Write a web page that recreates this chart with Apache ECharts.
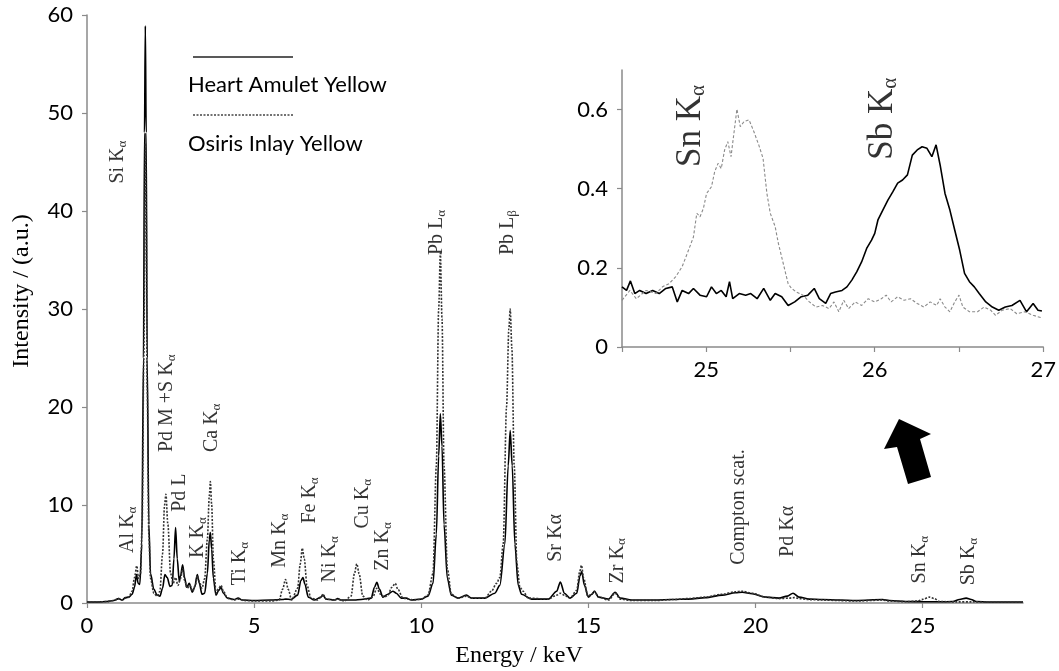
<!DOCTYPE html>
<html>
<head>
<meta charset="utf-8">
<script src="https://cdn.jsdelivr.net/npm/echarts@6/dist/echarts.min.js"></script>
<style>
  html, body { margin: 0; padding: 0; background: #fff; }
  #chart { width: 1059px; height: 671px; }
</style>
</head>
<body>
<div id="chart"></div>
<script>
// XRF spectra: [energy keV, intensity a.u.]
const heartSpectrum = [
  [0.0,0.1],[0.3,0.1],[0.6,0.15],[0.8,0.25],[0.95,0.45],[1.05,0.3],[1.15,0.55],[1.25,0.6],
  [1.35,0.9],[1.42,1.6],[1.48,2.9],[1.53,2.0],[1.58,1.9],[1.64,6],[1.69,25],[1.72,48],
  [1.745,58.9],[1.77,48],[1.8,25],[1.85,8],[1.9,3],[2.0,1.4],[2.1,0.8],[2.18,0.7],
  [2.26,1.5],[2.33,2.9],[2.4,2.6],[2.48,1.7],[2.55,1.8],[2.6,4.5],[2.65,7.7],[2.7,4.5],
  [2.76,2.2],[2.8,2.8],[2.86,3.9],[2.92,2.6],[2.98,1.6],[3.06,2.0],[3.15,1.1],[3.22,1.6],
  [3.3,2.9],[3.36,2.0],[3.44,0.9],[3.52,1.0],[3.6,3.0],[3.66,6.5],[3.69,7.2],[3.73,5.5],
  [3.78,2.5],[3.86,0.8],[3.94,1.3],[4.01,1.6],[4.08,1.0],[4.2,0.5],[4.4,0.35],[4.52,0.5],
  [4.65,0.3],[5.0,0.25],[5.5,0.3],[5.85,0.35],[5.95,0.4],[6.1,0.35],[6.3,0.8],[6.4,2.3],
  [6.46,2.6],[6.52,1.9],[6.62,0.6],[6.8,0.3],[7.0,0.6],[7.06,0.8],[7.15,0.4],[7.4,0.3],
  [7.5,0.45],[7.6,0.3],[8.0,0.3],[8.2,0.35],[8.5,0.5],[8.6,1.6],[8.67,2.1],[8.75,1.4],
  [8.85,0.6],[9.0,0.9],[9.15,1.2],[9.25,1.0],[9.4,0.5],[9.55,0.5],[9.7,0.3],[10.0,0.4],
  [10.2,0.7],[10.35,2.0],[10.45,7],[10.52,15],[10.57,19.3],[10.62,16],[10.68,8],[10.78,2.5],
  [10.9,0.8],[11.1,0.5],[11.35,0.8],[11.5,0.5],[11.9,0.5],[12.2,1.0],[12.35,1.8],[12.5,6],
  [12.6,14],[12.66,17.6],[12.72,14],[12.8,6],[12.9,1.8],[13.0,0.9],[13.3,0.4],[13.8,0.4],
  [14.05,1.2],[14.16,2.15],[14.28,1.0],[14.45,0.5],[14.65,1.0],[14.75,2.8],[14.8,3.2],[14.88,1.8],
  [15.0,0.6],[15.1,0.9],[15.18,1.2],[15.3,0.6],[15.6,0.4],[15.8,1.1],[15.95,0.5],[16.3,0.3],
  [17.0,0.3],[17.5,0.35],[18.0,0.4],[18.5,0.55],[19.0,0.8],[19.4,1.05],[19.6,1.1],[19.9,0.95],
  [20.3,0.6],[20.7,0.5],[20.95,0.7],[21.12,1.0],[21.3,0.6],[21.6,0.4],[22.0,0.35],[22.5,0.3],
  [23.0,0.25],[23.8,0.35],[24.0,0.25],[24.5,0.15],[25.0,0.14],[25.5,0.12],[25.9,0.15],[26.1,0.36],
  [26.3,0.5],[26.45,0.35],[26.6,0.16],[27.0,0.1],[28.0,0.1]
];

const osirisSpectrum = [
  [0.0,0.1],[0.3,0.1],[0.6,0.15],[0.8,0.25],[0.95,0.45],[1.05,0.3],[1.15,0.5],[1.25,0.6],
  [1.35,1.2],[1.42,2.6],[1.49,3.8],[1.54,2.5],[1.6,3],[1.65,8],[1.7,25],[1.73,40],
  [1.75,46.9],[1.77,40],[1.8,22],[1.85,7],[1.9,2.5],[2.0,1.0],[2.1,0.7],[2.18,1.2],
  [2.26,5],[2.32,10],[2.36,11.1],[2.42,8],[2.5,3],[2.58,2.0],[2.65,2.6],[2.72,1.8],
  [2.8,2.5],[2.86,3.5],[2.92,2.3],[3.0,1.5],[3.08,1.8],[3.16,1.2],[3.24,1.8],[3.3,2.8],
  [3.36,2.2],[3.44,1.5],[3.52,2.5],[3.6,6.5],[3.66,11],[3.69,12.4],[3.73,10],[3.78,4.5],
  [3.86,1.0],[3.94,1.5],[4.01,1.8],[4.08,1.2],[4.2,0.5],[4.4,0.3],[4.52,0.4],[4.7,0.25],
  [5.0,0.2],[5.5,0.2],[5.75,0.3],[5.85,1.4],[5.94,2.4],[6.02,1.4],[6.12,0.3],[6.3,1.5],
  [6.38,4],[6.44,5.6],[6.5,4.5],[6.58,1.8],[6.7,0.5],[6.9,0.3],[7.0,0.6],[7.06,0.9],
  [7.15,0.4],[7.4,0.3],[7.5,0.4],[7.7,0.2],[7.9,0.7],[8.0,3.0],[8.07,4.0],[8.14,3.0],
  [8.25,0.7],[8.4,0.3],[8.55,0.6],[8.67,1.5],[8.78,0.9],[8.9,0.6],[9.0,0.8],[9.12,1.6],
  [9.22,2.0],[9.3,1.4],[9.45,0.5],[9.6,0.4],[9.8,0.3],[10.0,0.4],[10.2,0.8],[10.35,3.0],
  [10.45,14],[10.52,30],[10.57,35.7],[10.62,29],[10.68,14],[10.78,3.5],[10.9,0.9],[11.1,0.5],
  [11.35,0.7],[11.5,0.5],[11.9,0.5],[12.1,1.2],[12.25,2.0],[12.35,2.6],[12.45,6],[12.55,20],
  [12.62,28],[12.66,30],[12.71,26],[12.78,14],[12.86,4],[12.95,1.6],[13.05,1.2],[13.2,0.5],
  [13.8,0.4],[14.05,0.8],[14.16,1.0],[14.28,0.8],[14.45,0.5],[14.65,1.3],[14.74,3.2],[14.79,3.85],
  [14.86,2.5],[14.98,0.7],[15.1,0.9],[15.18,1.2],[15.3,0.6],[15.6,0.3],[15.8,1.0],[15.95,0.4],
  [16.3,0.25],[17.0,0.25],[17.5,0.35],[18.0,0.45],[18.5,0.6],[19.0,0.9],[19.4,1.15],[19.6,1.2],
  [19.9,1.0],[20.3,0.6],[20.7,0.45],[21.0,0.5],[21.15,0.55],[21.3,0.45],[21.6,0.35],[22.0,0.3],
  [22.5,0.25],[23.0,0.2],[23.8,0.3],[24.0,0.2],[24.5,0.13],[24.85,0.2],[25.0,0.38],[25.2,0.6],
  [25.35,0.45],[25.5,0.15],[26.0,0.11],[26.5,0.12],[27.0,0.08],[28.0,0.08]
];

// Zoomed region 24.5 - 27 keV (Sn / Sb K lines)
const heartInset = [
  [24.500,0.152],[24.527,0.143],[24.550,0.167],[24.576,0.135],[24.605,0.143],[24.643,0.135],
  [24.682,0.143],[24.721,0.135],[24.760,0.148],[24.798,0.152],[24.828,0.114],[24.857,0.143],
  [24.895,0.135],[24.924,0.148],[24.963,0.131],[25.002,0.127],[25.031,0.152],[25.060,0.135],
  [25.089,0.143],[25.118,0.127],[25.138,0.165],[25.157,0.122],[25.196,0.135],[25.234,0.131],
  [25.264,0.135],[25.302,0.122],[25.341,0.148],[25.380,0.118],[25.409,0.135],[25.448,0.127],
  [25.486,0.105],[25.525,0.114],[25.564,0.127],[25.603,0.131],[25.641,0.148],[25.671,0.122],
  [25.709,0.110],[25.738,0.135],[25.767,0.139],[25.806,0.143],[25.835,0.152],[25.864,0.169],
  [25.893,0.190],[25.922,0.215],[25.952,0.249],[25.981,0.270],[26.000,0.287],[26.019,0.321],
  [26.048,0.346],[26.078,0.371],[26.107,0.392],[26.136,0.414],[26.165,0.422],[26.194,0.435],
  [26.223,0.485],[26.252,0.498],[26.281,0.506],[26.310,0.502],[26.339,0.481],[26.364,0.511],
  [26.388,0.460],[26.417,0.388],[26.446,0.346],[26.475,0.295],[26.504,0.245],[26.533,0.186],
  [26.562,0.165],[26.591,0.152],[26.620,0.135],[26.659,0.114],[26.698,0.101],[26.736,0.093],
  [26.775,0.101],[26.814,0.105],[26.862,0.118],[26.901,0.089],[26.940,0.110],[26.969,0.093],
  [26.992,0.091]
];

const osirisInset = [
  [24.500,0.118],[24.547,0.143],[24.585,0.122],[24.643,0.143],[24.702,0.135],[24.740,0.152],
  [24.779,0.160],[24.818,0.177],[24.857,0.203],[24.895,0.245],[24.924,0.278],[24.944,0.338],
  [24.963,0.329],[24.983,0.350],[25.002,0.388],[25.031,0.405],[25.050,0.443],[25.070,0.464],
  [25.089,0.451],[25.109,0.498],[25.128,0.519],[25.147,0.481],[25.163,0.536],[25.182,0.601],
  [25.202,0.557],[25.225,0.570],[25.254,0.574],[25.283,0.544],[25.312,0.510],[25.337,0.477],
  [25.360,0.388],[25.380,0.338],[25.409,0.304],[25.428,0.262],[25.457,0.211],[25.486,0.160],
  [25.506,0.148],[25.535,0.139],[25.574,0.131],[25.612,0.114],[25.651,0.101],[25.690,0.105],
  [25.729,0.097],[25.758,0.114],[25.787,0.089],[25.816,0.118],[25.845,0.097],[25.884,0.114],
  [25.922,0.105],[25.961,0.122],[26.000,0.114],[26.039,0.122],[26.068,0.131],[26.097,0.114],
  [26.136,0.127],[26.174,0.118],[26.213,0.122],[26.252,0.110],[26.291,0.101],[26.329,0.114],
  [26.368,0.105],[26.388,0.122],[26.417,0.101],[26.446,0.089],[26.475,0.114],[26.500,0.131],
  [26.523,0.101],[26.562,0.089],[26.610,0.089],[26.649,0.101],[26.688,0.093],[26.717,0.080],
  [26.756,0.093],[26.804,0.097],[26.843,0.084],[26.891,0.089],[26.940,0.080],[26.988,0.074]
];

const seriesNames = ['Heart Amulet Yellow', 'Osiris Inlay Yellow'];

// Line assignments; text after "_" is set as a subscript
const peakNames = [
  'Si K_α', 'Al K_α', 'Pd M +S K_α', 'Pd L', 'K K_α', 'Ca K_α', 'Ti K_α', 'Mn K_α',
  'Fe K_α', 'Ni K_α', 'Cu K_α', 'Zn K_α', 'Pb L_α', 'Pb L_β', 'Sr Kα', 'Zr K_α',
  'Compton scat.', 'Pd Kα', 'Sn K_α', 'Sb K_α'
];
const peakEnergy = [
  0.92, 1.22, 2.39, 2.78, 3.31, 3.73, 4.57, 5.77,
  6.67, 7.27, 8.26, 8.86, 10.47, 12.60, 14.01, 15.87,
  19.49, 20.96, 24.91, 26.38
];
const peakHeight = [
  42.8, 5.1, 15.4, 9.3, 4.6, 15.4, 1.8, 3.6,
  8.1, 2.1, 7.6, 3.3, 35.5, 35.5, 4.2, 2.0,
  3.9, 4.7, 2.0, 1.8
];

const insetPeakNames = ['Sn K_α', 'Sb K_α'];
const insetPeakEnergy = [24.91, 26.05];
const insetPeakHeight = [0.455, 0.473];

const AXIS_GRAY = '#8a8a8a';
const SANS = 'Lato';
const SERIF = 'Liberation Serif';

function richLabel(name) {
  const parts = name.split('_');
  return parts.length > 1 ? '{m|' + parts[0] + '}{s|' + parts[1] + '}' : '{m|' + parts[0] + '}';
}

function valueAxis(opts) {
  return Object.assign({
    type: 'value',
    splitLine: { show: false },
    axisLine: { show: true, onZero: false, lineStyle: { color: AXIS_GRAY, width: 1.5 } },
    axisTick: { show: true, inside: false, length: 5, lineStyle: { color: AXIS_GRAY, width: 1.2 } },
    axisLabel: { fontFamily: SANS, fontSize: 22, color: '#000', margin: 14 }
  }, opts);
}

const chart = echarts.init(document.getElementById('chart'), null, { renderer: 'canvas' });

chart.setOption({
  animation: false,
  backgroundColor: '#fff',
  grid: [
    { left: 87, top: 15, right: 36, bottom: 68 },
    { left: 622, top: 70, right: 8, bottom: 324 }
  ],
  xAxis: [
    valueAxis({
      gridIndex: 0, min: 0, max: 28, interval: 5,
      axisLabel: { fontFamily: SANS, fontSize: 22, color: '#000', margin: 12, showMaxLabel: false }
    }),
    valueAxis({
      gridIndex: 1, min: 24.5, max: 27, interval: 0.5,
      axisLabel: {
        fontFamily: SANS, fontSize: 22, color: '#000', margin: 12,
        formatter: v => (Math.abs(v - Math.round(v)) < 1e-6 ? String(Math.round(v)) : '')
      }
    })
  ],
  yAxis: [
    valueAxis({ gridIndex: 0, min: 0, max: 60, interval: 10 }),
    valueAxis({
      gridIndex: 1, min: 0, max: 0.7, interval: 0.2,
      axisLabel: {
        fontFamily: SANS, fontSize: 22, color: '#000', margin: 14, showMaxLabel: false,
        formatter: v => (v === 0 ? '0' : v.toFixed(1))
      }
    })
  ],
  series: [
    {
      name: seriesNames[0], type: 'line', xAxisIndex: 0, yAxisIndex: 0,
      data: heartSpectrum, showSymbol: false, smooth: 0.3, smoothMonotone: 'x',
      lineStyle: { color: '#000', width: 1.6 }, z: 3
    },
    {
      name: seriesNames[1], type: 'line', xAxisIndex: 0, yAxisIndex: 0,
      data: osirisSpectrum, showSymbol: false, smooth: 0.3, smoothMonotone: 'x',
      lineStyle: { color: '#333', width: 1.6, type: [2, 1.5] }, z: 4
    },
    {
      name: seriesNames[0], type: 'line', xAxisIndex: 1, yAxisIndex: 1,
      data: heartInset, showSymbol: false,
      lineStyle: { color: '#000', width: 1.6 }, z: 3
    },
    {
      name: seriesNames[1], type: 'line', xAxisIndex: 1, yAxisIndex: 1,
      data: osirisInset, showSymbol: false,
      lineStyle: { color: '#8a8a8a', width: 1.1, type: [3, 2] }, z: 4
    },
    {
      type: 'scatter', xAxisIndex: 0, yAxisIndex: 0, silent: true, symbolSize: 0, z: 5,
      data: peakEnergy.map((e, i) => [e, peakHeight[i]]),
      label: {
        show: true, position: [0, 0], rotate: 90, align: 'left', verticalAlign: 'middle',
        formatter: p => richLabel(peakNames[p.dataIndex]),
        rich: {
          m: { fontFamily: SERIF, fontSize: 20, lineHeight: 22, color: '#000' },
          s: { fontFamily: SERIF, fontSize: 13, lineHeight: 13, padding: [9, 0, 0, 0], color: '#000' }
        }
      }
    },
    {
      type: 'scatter', xAxisIndex: 1, yAxisIndex: 1, silent: true, symbolSize: 0, z: 5,
      data: insetPeakEnergy.map((e, i) => [e, insetPeakHeight[i]]),
      label: {
        show: true, position: [0, 0], rotate: 90, align: 'left', verticalAlign: 'middle',
        formatter: p => richLabel(insetPeakNames[p.dataIndex]),
        rich: {
          m: { fontFamily: SERIF, fontSize: 35, lineHeight: 38, color: '#000' },
          s: { fontFamily: SERIF, fontSize: 21, lineHeight: 21, padding: [15, 0, 0, 0], color: '#000' }
        }
      }
    }
  ],
  graphic: [
    // axis titles
    {
      type: 'text', x: 22, y: 291, rotation: Math.PI / 2,
      style: { text: 'Intensity / (a.u.)', font: '24px "' + SERIF + '"', fill: '#000',
               textAlign: 'center', textVerticalAlign: 'middle' }
    },
    {
      type: 'text', x: 519, y: 656,
      style: { text: 'Energy / keV', font: '24px "' + SERIF + '"', fill: '#000',
               textAlign: 'center', textVerticalAlign: 'middle' }
    },
    // legend
    {
      type: 'line', shape: { x1: 193, y1: 57, x2: 293, y2: 57 },
      style: { stroke: '#222', lineWidth: 1.6 }
    },
    {
      type: 'text', x: 188, y: 85,
      style: { text: seriesNames[0], font: '22px ' + SANS, fill: '#000', textVerticalAlign: 'middle' }
    },
    {
      type: 'line', shape: { x1: 193, y1: 115, x2: 293, y2: 115 },
      style: { stroke: '#444', lineWidth: 1.3, lineDash: [2, 1.5] }
    },
    {
      type: 'text', x: 188, y: 144,
      style: { text: seriesNames[1], font: '22px ' + SANS, fill: '#000', textVerticalAlign: 'middle' }
    },
    // arrow pointing to the zoomed region
    {
      type: 'polygon',
      shape: { points: [[899, 419], [931, 434], [920, 439], [931, 477], [908, 484], [897, 447], [884, 449]] },
      style: { fill: '#000' }
    }
  ]
});
</script>
</body>
</html>
